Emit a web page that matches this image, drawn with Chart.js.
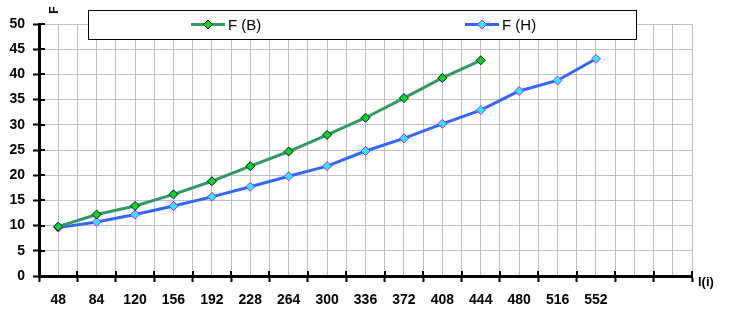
<!DOCTYPE html>
<html>
<head>
<meta charset="utf-8">
<script src="https://cdn.jsdelivr.net/npm/chart.js"></script>
<style>
html, body { margin: 0; padding: 0; background: #fff; }
canvas { display: block; }
</style>
</head>
<body>
<canvas id="chart" width="731" height="321"></canvas>
<script>
// data
const categories = [48, 84, 120, 156, 192, 228, 264, 300, 336, 372, 408, 444, 480, 516, 552];
const valuesB = [9.8, 12.2, 13.9, 16.2, 18.8, 21.8, 24.7, 28.0, 31.4, 35.3, 39.3, 42.8];
const valuesH = [9.6, 10.7, 12.2, 13.9, 15.7, 17.7, 19.8, 21.8, 24.8, 27.3, 30.2, 32.9, 36.7, 38.8, 43.1];
const seriesNames = ['F (B)', 'F (H)'];
const yAxisTitle = 'F';
const xAxisTitle = 'l(i)';

const FONT = '"Liberation Sans", Arial, sans-serif';
const xStep = 36;
const xMin = categories[0] - xStep / 2;
const xMax = xMin + xStep * 17;

const toPoints = vals => vals.map((v, i) => ({ x: categories[i], y: v }));

const extras = {
  id: 'extras',
  afterDraw(chart) {
    const { ctx, chartArea: a, scales: { x, y } } = chart;
    ctx.save();
    // inward half of the axis tick marks
    ctx.strokeStyle = '#000';
    ctx.lineWidth = 2;
    ctx.beginPath();
    x.ticks.forEach(t => {
      if (Math.round(t.value - xMin) % xStep !== 0) return;
      const px = Math.round(x.getPixelForValue(t.value));
      ctx.moveTo(px, a.bottom);
      ctx.lineTo(px, a.bottom - 5);
    });
    y.ticks.forEach(t => {
      const py = Math.round(y.getPixelForValue(t.value));
      ctx.moveTo(a.left, py);
      ctx.lineTo(a.left + 6, py);
    });
    ctx.stroke();

    // axis titles
    ctx.fillStyle = '#000';
    ctx.font = 'bold 13px ' + FONT;
    ctx.textAlign = 'left';
    ctx.textBaseline = 'middle';
    ctx.fillText(xAxisTitle, 698, 282);
    ctx.save();
    ctx.translate(55, 10);
    ctx.rotate(-Math.PI / 2);
    ctx.textAlign = 'center';
    ctx.font = 'bold 12px ' + FONT;
    ctx.fillText(yAxisTitle, 0, 0);
    ctx.restore();

    // legend box
    ctx.fillStyle = '#fff';
    ctx.fillRect(88, 10, 548, 29);
    ctx.strokeStyle = '#000';
    ctx.lineWidth = 1;
    ctx.strokeRect(88.5, 10.5, 548, 29);
    const starts = [191, 465];
    chart.data.datasets.forEach((ds, i) => {
      const sx = starts[i], ly = 24.5;
      ctx.strokeStyle = ds.borderColor;
      ctx.lineWidth = 3;
      ctx.beginPath();
      ctx.moveTo(sx, ly);
      ctx.lineTo(sx + 34, ly);
      ctx.stroke();
      const mx = sx + 17, r = 4.5;
      ctx.beginPath();
      ctx.moveTo(mx, ly - r);
      ctx.lineTo(mx + r, ly);
      ctx.lineTo(mx, ly + r);
      ctx.lineTo(mx - r, ly);
      ctx.closePath();
      ctx.fillStyle = ds.pointBackgroundColor;
      ctx.fill();
      ctx.strokeStyle = ds.pointBorderColor;
      ctx.lineWidth = 1;
      ctx.stroke();
      ctx.fillStyle = '#000';
      ctx.font = '15px ' + FONT;
      ctx.textAlign = 'left';
      ctx.textBaseline = 'middle';
      ctx.fillText(ds.label, sx + 37, ly + 1);
    });
    ctx.restore();
  }
};

new Chart(document.getElementById('chart'), {
  type: 'line',
  data: {
    datasets: [{
      label: seriesNames[0],
      data: toPoints(valuesB),
      borderColor: '#339966',
      borderWidth: 3,
      pointStyle: 'rectRot',
      pointRadius: 4.5,
      pointBackgroundColor: '#00e000',
      pointBorderColor: '#000080',
      pointBorderWidth: 1,
      tension: 0
    }, {
      label: seriesNames[1],
      data: toPoints(valuesH),
      borderColor: '#3366ff',
      borderWidth: 3,
      pointStyle: 'rectRot',
      pointRadius: 4.5,
      pointBackgroundColor: '#00ffff',
      pointBorderColor: '#ff00ff',
      pointBorderWidth: 1,
      tension: 0
    }]
  },
  options: {
    responsive: false,
    animation: false,
    layout: { padding: { top: 24, right: 39, left: 0, bottom: 0 } },
    plugins: { legend: { display: false }, tooltip: { enabled: false } },
    scales: {
      x: {
        type: 'linear',
        min: xMin,
        max: xMax,
        afterFit: s => { s.height = 45; },
        ticks: {
          stepSize: xStep / 2,
          autoSkip: false,
          maxRotation: 0,
          padding: 10,
          color: '#000',
          font: { family: FONT, size: 14, weight: 'bold' },
          callback: v => categories.includes(Math.round(v)) ? String(Math.round(v)) : ''
        },
        grid: {
          color: '#c0c0c0',
          lineWidth: 1,
          tickLength: 6,
          tickWidth: 2,
          tickColor: c => (Math.round(c.tick.value - xMin) % xStep === 0 ? '#000' : 'rgba(0,0,0,0)')
        },
        border: { color: '#000', width: 3 }
      },
      y: {
        min: 0,
        max: 50,
        afterFit: s => { s.width = 39; },
        ticks: {
          stepSize: 5,
          padding: 8,
          color: '#000',
          font: { family: FONT, size: 14, weight: 'bold' }
        },
        grid: {
          color: '#c0c0c0',
          lineWidth: 1,
          tickLength: 6,
          tickWidth: 2,
          tickColor: '#000'
        },
        border: { color: '#000', width: 3 }
      }
    }
  },
  plugins: [extras]
});
</script>
</body>
</html>
